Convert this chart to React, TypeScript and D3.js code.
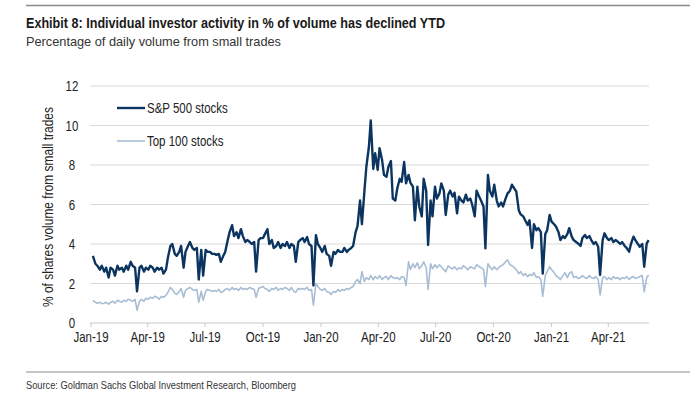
import React from 'react';
import * as d3 from 'd3';

const titleText = 'Exhibit 8: Individual investor activity in % of volume has declined YTD';
const subtitleText = 'Percentage of daily volume from small trades';
const sourceText = 'Source: Goldman Sachs Global Investment Research, Bloomberg';
const yAxisTitle = '% of shares volume from small trades';
const seriesNames = ['S&P 500 stocks', 'Top 100 stocks'];

// Observation calendar: Tuesday and Friday readings, 4 Jan 2019 to 4 Jun 2021
const obsDates: Date[] = d3.timeDay
  .range(new Date(2019, 0, 4), new Date(2021, 5, 5))
  .filter((d) => d.getDay() === 2 || d.getDay() === 5);

// S&P 500 stocks, % of volume from small trades
const spValues = [
  // 2019 Jan
  3.4, 3.0, 2.9, 2.7, 2.9, 2.6, 2.8, 2.3,
  // Feb
  2.8, 2.7, 2.4, 2.9, 2.7, 2.8, 2.6, 2.9,
  // Mar
  2.7, 3.1, 2.9, 2.8, 1.6, 2.8, 2.9, 2.6, 2.8,
  // Apr
  2.7, 2.9, 2.8, 2.6, 2.8, 2.7, 2.8, 2.5, 2.7,
  // May
  3.3, 3.9, 4.0, 3.5, 3.4, 3.6, 3.9, 2.8, 3.6,
  // Jun
  3.9, 4.1, 3.8, 3.7, 3.8, 2.2, 3.7, 2.4,
  // Jul
  3.7, 3.6, 3.6, 3.5, 3.5, 3.45, 3.5, 3.1, 3.4,
  // Aug
  3.6, 4.2, 4.6, 4.95, 4.4, 4.6, 4.3, 4.75, 4.4,
  // Sep
  4.1, 4.2, 4.1, 4.0, 4.1, 2.6, 4.2, 4.3,
  // Oct
  4.3, 4.5, 4.75, 4.0, 4.2, 3.8, 3.9, 4.1, 3.8,
  // Nov
  4.0, 3.9, 4.1, 3.8, 4.0, 3.9, 3.1, 4.1, 4.2,
  // Dec
  4.3, 4.1, 4.35, 4.0, 3.9, 1.9, 4.45, 4.0, 3.8,
  // 2020 Jan
  3.6, 3.9, 3.5, 3.4, 2.9, 3.6, 3.5, 3.7, 3.6,
  // Feb
  3.6, 3.8, 3.6, 3.7, 3.8, 3.9, 4.6, 4.9,
  // Mar
  6.2, 5.0, 6.7, 7.9, 8.9, 10.25, 7.8, 8.6, 7.75,
  // Apr
  8.85, 8.25, 7.5, 7.4, 7.9, 8.2, 6.3, 6.2,
  // May
  6.8, 7.3, 7.15, 8.15, 7.07, 7.5, 7.1, 6.9, 5.2,
  // Jun
  6.9, 5.9, 5.4, 7.3, 6.7, 3.95, 6.2, 5.4, 6.9,
  // Jul
  6.3, 6.55, 7.07, 6.7, 5.47, 6.5, 6.7, 6.4, 6.6,
  // Aug
  5.55, 6.4, 6.2, 6.1, 6.5, 6.2, 6.3, 6.0,
  // Sep
  5.4, 6.7, 6.4, 6.2, 5.9, 3.78, 7.5, 6.7, 6.4,
  // Oct
  7.0, 6.2, 5.9, 6.1, 5.9, 6.3, 6.55, 6.7, 7.0,
  // Nov
  6.8, 6.65, 5.7, 5.5, 5.4, 5.2, 4.96, 5.2,
  // Dec
  3.8, 5.0, 4.7, 4.8, 4.6, 2.5, 4.5, 4.7, 5.47,
  // 2021 Jan
  5.13, 5.0, 4.88, 4.6, 4.2, 4.4, 4.3, 4.5, 4.8,
  // Feb
  4.37, 4.2, 4.1, 4.03, 3.9, 4.3, 4.46, 4.3,
  // Mar
  4.4, 4.2, 4.0, 4.1, 3.86, 2.43, 4.2, 4.54, 4.3,
  // Apr
  4.2, 4.3, 4.1, 4.2, 4.12, 4.0, 4.1, 3.9, 3.8,
  // May
  3.61, 4.0, 4.37, 4.2, 4.0, 3.86, 4.0, 2.85,
  // Jun
  4.03, 4.2,
];

// Top 100 stocks, % of volume from small trades
const topValues = [
  // 2019 Jan
  1.15, 1.05, 1.0, 1.05, 0.98, 1.0, 1.05, 0.95,
  // Feb
  1.05, 1.1, 1.0, 1.15, 1.1, 1.05, 1.15, 1.1,
  // Mar
  1.2, 1.15, 1.1, 1.2, 0.65, 1.1, 1.2, 1.1, 1.25,
  // Apr
  1.2, 1.3, 1.25, 1.35, 1.3, 1.2, 1.35, 1.3, 1.4,
  // May
  1.55, 1.8, 1.7, 1.5, 1.45, 1.6, 1.75, 1.3, 1.65,
  // Jun
  1.75, 1.8, 1.7, 1.65, 1.7, 1.05, 1.6, 1.15,
  // Jul
  1.6, 1.7, 1.65, 1.6, 1.65, 1.6, 1.7, 1.55, 1.6,
  // Aug
  1.7, 1.75, 1.65, 1.8, 1.7, 1.75, 1.65, 1.8, 1.7,
  // Sep
  1.75, 1.7, 1.8, 1.75, 1.7, 1.3, 1.75, 1.8,
  // Oct
  1.85, 1.75, 1.7, 1.6, 1.75, 1.7, 1.8, 1.65, 1.75,
  // Nov
  1.7, 1.8, 1.75, 1.65, 1.8, 1.6, 1.55, 1.75, 1.7,
  // Dec
  1.75, 1.7, 1.8, 1.65, 1.7, 0.9, 2.0, 1.85, 1.7,
  // 2020 Jan
  1.65, 1.75, 1.6, 1.55, 1.45, 1.6, 1.55, 1.7, 1.6,
  // Feb
  1.7, 1.65, 1.75, 1.7, 1.8, 1.85, 2.1, 2.2,
  // Mar
  2.0, 2.6, 2.1, 2.3, 2.2, 2.4, 2.2, 2.35, 2.25,
  // Apr
  2.4, 2.2, 2.3, 2.35, 2.2, 2.4, 2.3, 2.25,
  // May
  2.3, 2.2, 2.35, 2.3, 1.9, 3.1, 2.7, 3.0, 2.8,
  // Jun
  3.05, 2.75, 2.9, 3.1, 2.8, 1.7, 3.0, 2.75, 2.95,
  // Jul
  2.8, 2.95, 2.85, 2.7, 2.6, 2.9, 2.8, 2.75, 2.85,
  // Aug
  2.7, 2.8, 2.75, 2.9, 2.8, 2.7, 2.85, 2.8,
  // Sep
  2.75, 2.95, 2.85, 2.8, 2.7, 1.85, 3.0, 2.85, 2.7,
  // Oct
  2.85, 2.7, 2.8, 2.9, 2.95, 3.1, 3.2, 2.95, 2.9,
  // Nov
  2.8, 2.7, 2.5, 2.6, 2.4, 2.5, 2.35, 2.45,
  // Dec
  2.4, 2.55, 2.3, 2.35, 2.2, 1.35, 2.4, 2.6, 2.85,
  // 2021 Jan
  2.7, 2.55, 2.4, 2.3, 2.2, 2.4, 2.55, 2.3, 2.5,
  // Feb
  2.6, 2.3, 2.35, 2.25, 2.3, 2.4, 2.3, 2.25,
  // Mar
  2.4, 2.3, 2.25, 2.35, 2.2, 1.42, 2.3, 2.35, 2.2,
  // Apr
  2.3, 2.2, 2.35, 2.25, 2.3, 2.2, 2.3, 2.25, 2.35,
  // May
  2.2, 2.3, 2.35, 2.25, 2.3, 2.35, 2.4, 1.58,
  // Jun
  2.3, 2.43,
];

const yTicks = [0, 2, 4, 6, 8, 10, 12];
const xTickLabels = ['Jan-19', 'Apr-19', 'Jul-19', 'Oct-19', 'Jan-20', 'Apr-20', 'Jul-20', 'Oct-20', 'Jan-21', 'Apr-21'];

const FONT = "'Liberation Sans', Arial, sans-serif";
const DARK = '#0b3560';
const LIGHT = '#a8bdd4';
const NARROW_SCALE = 0.82;

function NText(props: {
  x: number;
  y: number;
  size: number;
  anchor?: 'start' | 'middle' | 'end';
  fill?: string;
  weight?: string;
  children: React.ReactNode;
}) {
  const { x, y, size, anchor = 'start', fill = '#222', weight = 'normal', children } = props;
  return (
    <text
      transform={`translate(${x},${y}) scale(${NARROW_SCALE},1)`}
      fontSize={size}
      textAnchor={anchor}
      fill={fill}
      fontWeight={weight}
    >
      {children}
    </text>
  );
}

export default function App() {
  const W = 690;
  const H = 411;
  const x = d3.scaleTime().domain([new Date(2019, 0, 1), new Date(2021, 5, 4)]).range([91, 648.6]);
  const y = d3.scaleLinear().domain([0, 12]).range([323, 86]);
  const parse = d3.timeParse('%b-%y');
  const xTicks = xTickLabels.map((l) => ({ label: l, date: parse(l) as Date }));

  const n = Math.min(obsDates.length, spValues.length, topValues.length);
  const spData = d3.range(n).map((i) => ({ d: obsDates[i], v: spValues[i] }));
  const topData = d3.range(n).map((i) => ({ d: obsDates[i], v: topValues[i] }));
  const line = d3
    .line<{ d: Date; v: number }>()
    .x((p) => x(p.d))
    .y((p) => y(p.v));

  const gx0 = 90;
  const gx1 = 649;

  return (
    <svg
      width={W}
      height={H}
      style={{ position: 'absolute', left: 0, top: 0, background: '#fff' }}
      fontFamily={FONT}
    >
      <rect x={0} y={0} width={W} height={H} fill="#fff" />
      <line x1={26} x2={W} y1={5.5} y2={5.5} stroke="#8a8a8a" strokeWidth={1.5} />
      <text
        x={26}
        y={28}
        fontSize={15.5}
        fontWeight="bold"
        fill="#1a1a1a"
        textLength={419}
        lengthAdjust="spacingAndGlyphs"
      >
        {titleText}
      </text>
      <text x={26} y={46} fontSize={13.5} fill="#333" textLength={255} lengthAdjust="spacingAndGlyphs">
        {subtitleText}
      </text>

      {yTicks.map((t) => (
        <g key={t}>
          {t > 0 && <line x1={gx0} x2={gx1} y1={y(t)} y2={y(t)} stroke="#d9d9d9" strokeWidth={1} />}
          <NText x={72} y={y(t) + 5} size={14} anchor="middle">
            {t}
          </NText>
        </g>
      ))}
      <line x1={gx0} x2={gx1} y1={y(0)} y2={y(0)} stroke="#c8c8c8" strokeWidth={1} />
      {xTicks.map((t) => (
        <g key={t.label}>
          <line x1={x(t.date)} x2={x(t.date)} y1={y(0)} y2={y(0) + 4} stroke="#c8c8c8" strokeWidth={1} />
          <NText x={x(t.date)} y={y(0) + 19} size={14} anchor="middle">
            {t.label}
          </NText>
        </g>
      ))}
      <text
        transform={`translate(${53},${207}) rotate(-90)`}
        fontSize={14}
        textAnchor="middle"
        fill="#222"
        textLength={200}
        lengthAdjust="spacingAndGlyphs"
      >
        {yAxisTitle}
      </text>

      <path d={line(topData) || ''} fill="none" stroke={LIGHT} strokeWidth={1.6} strokeLinejoin="round" />
      <path d={line(spData) || ''} fill="none" stroke={DARK} strokeWidth={2.4} strokeLinejoin="round" />

      <line x1={117} x2={145} y1={108} y2={108} stroke={DARK} strokeWidth={2.4} />
      <NText x={147} y={113} size={14}>
        {seriesNames[0]}
      </NText>
      <line x1={117} x2={145} y1={141} y2={141} stroke={LIGHT} strokeWidth={1.6} />
      <NText x={147} y={146} size={14}>
        {seriesNames[1]}
      </NText>

      <line x1={26} x2={W} y1={372} y2={372} stroke="#8a8a8a" strokeWidth={1} />
      <text x={26} y={389} fontSize={11} fill="#333" textLength={270} lengthAdjust="spacingAndGlyphs">
        {sourceText}
      </text>
    </svg>
  );
}
